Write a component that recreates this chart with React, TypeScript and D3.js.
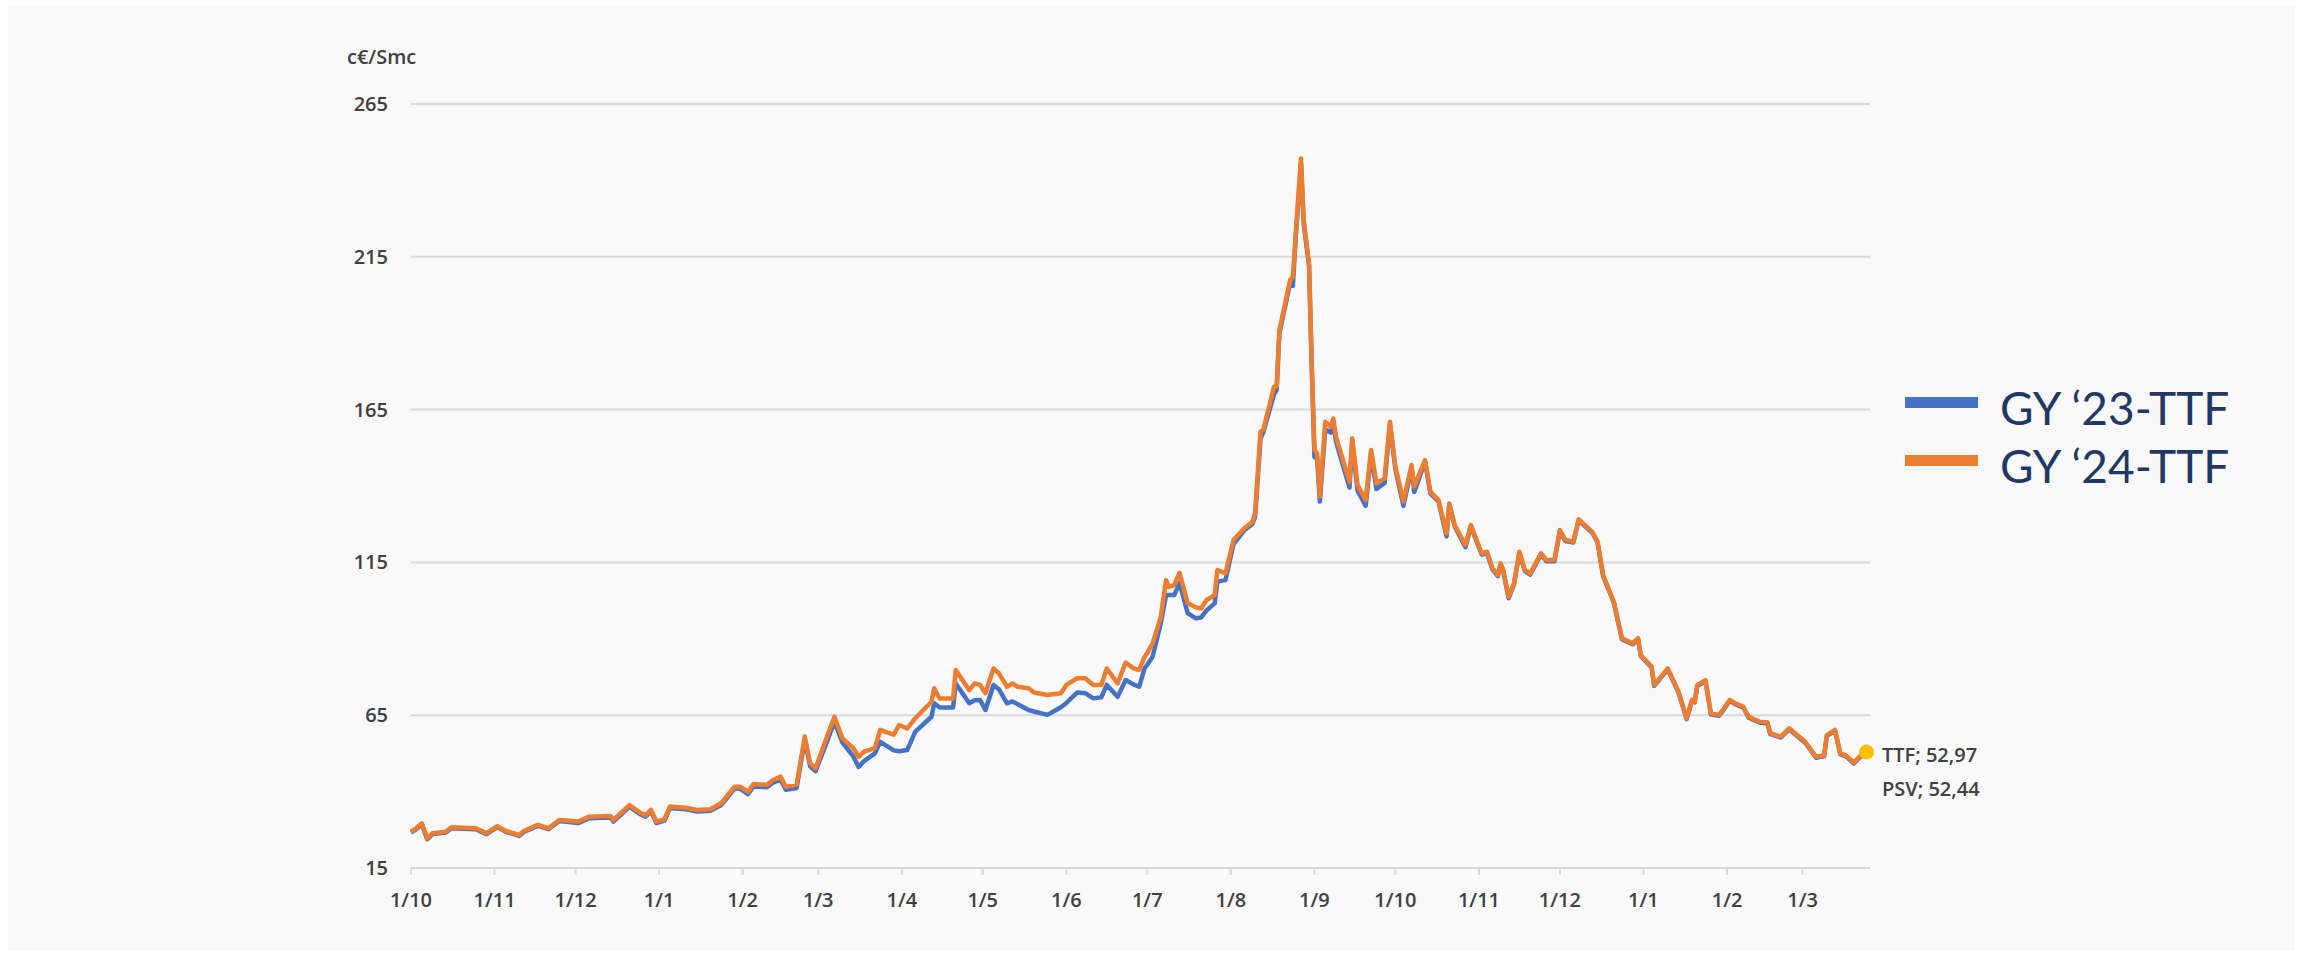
import React from 'react';
import * as d3 from 'd3';

// daily-ish readings of the two forward products, c€/Smc
const dates = [
  '2021-10-01', '2021-10-03', '2021-10-05', '2021-10-07', '2021-10-09', '2021-10-14', '2021-10-16', '2021-10-25', '2021-10-29',
  '2021-11-02', '2021-11-05', '2021-11-10', '2021-11-12', '2021-11-17', '2021-11-21', '2021-11-25',
  '2021-12-02', '2021-12-06', '2021-12-14', '2021-12-15', '2021-12-18', '2021-12-21', '2021-12-25', '2021-12-27', '2021-12-29', '2021-12-31',
  '2022-01-03', '2022-01-05', '2022-01-11', '2022-01-15', '2022-01-20', '2022-01-24', '2022-01-29', '2022-01-31',
  '2022-02-03', '2022-02-05', '2022-02-10', '2022-02-12', '2022-02-15', '2022-02-17', '2022-02-21', '2022-02-24', '2022-02-26', '2022-02-28',
  '2022-03-04', '2022-03-07', '2022-03-10', '2022-03-14', '2022-03-16', '2022-03-18', '2022-03-22', '2022-03-24', '2022-03-29', '2022-03-31',
  '2022-04-03', '2022-04-06', '2022-04-12', '2022-04-13', '2022-04-15', '2022-04-20', '2022-04-21', '2022-04-26', '2022-04-28', '2022-04-30',
  '2022-05-02', '2022-05-05', '2022-05-07', '2022-05-10', '2022-05-12', '2022-05-14', '2022-05-18', '2022-05-20', '2022-05-25', '2022-05-30',
  '2022-06-01', '2022-06-05', '2022-06-08', '2022-06-11', '2022-06-14', '2022-06-16', '2022-06-20', '2022-06-23', '2022-06-26', '2022-06-28', '2022-06-30',
  '2022-07-01', '2022-07-03', '2022-07-06', '2022-07-08', '2022-07-09', '2022-07-11', '2022-07-13', '2022-07-16', '2022-07-19', '2022-07-21', '2022-07-23', '2022-07-26', '2022-07-27', '2022-07-30',
  '2022-08-02', '2022-08-06', '2022-08-09', '2022-08-10', '2022-08-12', '2022-08-13', '2022-08-17', '2022-08-18', '2022-08-19', '2022-08-23', '2022-08-24', '2022-08-25', '2022-08-27', '2022-08-28', '2022-08-30', '2022-08-31',
  '2022-09-01', '2022-09-02', '2022-09-03', '2022-09-05', '2022-09-07', '2022-09-08', '2022-09-09', '2022-09-14', '2022-09-15', '2022-09-17', '2022-09-20', '2022-09-22', '2022-09-24', '2022-09-27', '2022-09-29',
  '2022-10-01', '2022-10-04', '2022-10-07', '2022-10-08', '2022-10-12', '2022-10-14', '2022-10-17', '2022-10-20', '2022-10-21', '2022-10-23', '2022-10-27', '2022-10-29',
  '2022-11-02', '2022-11-04', '2022-11-06', '2022-11-08', '2022-11-09', '2022-11-10', '2022-11-12', '2022-11-14', '2022-11-16', '2022-11-18', '2022-11-20', '2022-11-24', '2022-11-26', '2022-11-29',
  '2022-12-01', '2022-12-03', '2022-12-06', '2022-12-08', '2022-12-13', '2022-12-15', '2022-12-17', '2022-12-21', '2022-12-24', '2022-12-28', '2022-12-30', '2022-12-31',
  '2023-01-04', '2023-01-05', '2023-01-10', '2023-01-14', '2023-01-17', '2023-01-19', '2023-01-20', '2023-01-21', '2023-01-24', '2023-01-26', '2023-01-29', '2023-01-30',
  '2023-02-02', '2023-02-04', '2023-02-07', '2023-02-09', '2023-02-13', '2023-02-16', '2023-02-17', '2023-02-21', '2023-02-24',
  '2023-03-02', '2023-03-06', '2023-03-09', '2023-03-10', '2023-03-13', '2023-03-15', '2023-03-17', '2023-03-20', '2023-03-22', '2023-03-24',
];

const gy23 = [
  26.6, 27.7, 29.3, 24.4, 26.1, 26.6, 28.0, 27.7, 26.1,
  28.4, 26.9, 25.5, 26.9, 28.8, 27.7, 30.4,
  29.7, 31.3, 31.5, 30.2, 32.6, 35.1, 32.6, 31.8, 33.5, 29.7,
  30.5, 34.6, 34.2, 33.5, 33.7, 35.6, 41.0, 41.0,
  39.2, 41.7, 41.4, 42.8, 44.0, 40.6, 41.2, 57.0, 48.3, 46.7,
  55.8, 62.9, 56.0, 51.5, 48.1, 50.0, 52.5, 56.3, 53.5, 53.2,
  53.6, 59.6, 64.5, 68.9, 67.5, 67.5, 75.4, 68.9, 69.9, 70.0,
  66.7, 74.9, 73.5, 68.9, 69.5, 68.6, 66.7, 66.2, 65.1, 67.6,
  69.0, 72.4, 72.2, 70.5, 70.9, 74.9, 71.0, 76.5, 75.0, 74.3, 80.3,
  81.5, 84.1, 95.0, 104.3, 104.3, 104.3, 108.2, 98.4, 96.7, 97.0, 99.3, 101.6, 108.7, 109.2,
  121.0, 125.5, 127.6, 130.0, 155.5, 157.5, 170.0, 171.5, 190.0, 206.5, 205.5, 220.5, 245.5, 226.0, 212.0, 179.0,
  149.5, 149.0, 134.9, 158.5, 157.5, 160.5, 154.5, 139.5, 154.5, 138.5, 133.5, 150.5, 139.0, 141.0, 160.0,
  145.5, 133.5, 146.0, 138.0, 148.0, 137.5, 135.0, 123.5, 134.0, 126.8, 120.0, 126.8,
  117.6, 118.0, 112.7, 110.5, 114.3, 112.2, 103.3, 107.8, 118.0, 112.2, 111.0, 117.6, 115.4, 115.4,
  125.2, 122.0, 121.5, 128.8, 124.7, 121.5, 110.6, 101.8, 89.9, 88.2, 89.9, 84.4,
  80.6, 74.6, 80.0, 72.4, 63.7, 69.7, 69.2, 74.6, 76.2, 65.3, 64.8, 65.9,
  69.7, 68.6, 67.5, 64.2, 62.6, 62.3, 58.8, 57.7, 60.4,
  56.0, 51.1, 51.6, 58.2, 59.9, 52.2, 51.6, 49.2, 51.1, 52.1,
];

const gy24 = [
  26.9, 28.0, 29.6, 24.7, 26.4, 26.9, 28.3, 28.0, 26.4,
  28.7, 27.2, 25.8, 27.2, 29.1, 28.0, 30.7,
  30.2, 31.8, 32.0, 30.7, 33.1, 35.6, 33.1, 32.3, 34.0, 30.2,
  31.0, 35.1, 34.7, 34.0, 34.2, 36.2, 41.6, 41.6,
  40.0, 42.5, 42.2, 43.6, 44.9, 41.6, 42.2, 58.0, 49.3, 47.6,
  57.4, 64.5, 57.4, 54.2, 51.4, 53.1, 54.2, 60.2, 58.6, 61.8,
  60.7, 64.0, 69.4, 73.8, 70.5, 70.5, 79.8, 73.2, 75.4, 74.9,
  72.2, 80.3, 78.7, 74.3, 75.4, 74.3, 73.8, 72.4, 71.6, 72.2,
  74.9, 77.1, 77.1, 74.9, 74.9, 80.3, 75.4, 82.2, 80.3, 79.8, 84.1,
  85.3, 88.5, 97.2, 109.2, 107.0, 107.6, 111.6, 101.6, 100.3, 99.9, 102.7, 104.3, 112.5, 111.4,
  122.3, 126.2, 128.3, 131.1, 157.8, 158.3, 172.5, 172.5, 191.0, 207.4, 208.5, 221.6, 247.2, 227.0, 212.9, 180.1,
  151.8, 150.7, 136.5, 161.0, 159.4, 162.1, 156.1, 141.4, 155.6, 140.3, 135.4, 151.8, 140.9, 142.5, 161.0,
  146.3, 134.9, 146.9, 139.8, 148.5, 138.1, 135.4, 124.5, 134.3, 127.2, 120.7, 127.2,
  118.0, 118.5, 113.1, 110.9, 114.7, 112.6, 103.8, 108.2, 118.5, 112.6, 111.4, 118.0, 115.8, 115.8,
  125.6, 122.4, 121.8, 129.1, 125.0, 121.8, 110.9, 102.1, 90.2, 88.5, 90.2, 84.7,
  80.9, 74.9, 80.3, 72.7, 64.0, 70.0, 69.5, 74.9, 76.5, 65.6, 65.1, 66.2,
  70.0, 68.9, 67.8, 64.5, 62.9, 62.6, 59.1, 58.0, 60.7,
  56.3, 51.4, 51.9, 58.5, 60.2, 52.5, 51.9, 49.5, 51.4, 52.6,
];

const yTicks = [15, 65, 115, 165, 215, 265];
const seriesNames = ['GY ‘23-TTF', 'GY ‘24-TTF'];
const seriesColors = ['#4472c4', '#ed7d31'];
const lastTTF = 52.97;
const lastPSV = 52.44;
const unitLabel = 'c€/Smc';

const W = 2303;
const H = 959;
const m = { left: 411, right: 1870, top: 104, bottom: 868 };
const axisFont = "'Open Sans', 'DejaVu Sans', sans-serif";
const labelColor = '#404040';

export default function App() {
  const parse = d3.utcParse('%Y-%m-%d');
  const start = parse('2021-10-01') as Date;
  const end = parse('2023-03-26') as Date;
  const x = d3.scaleUtc().domain([start, end]).range([m.left, m.right]);
  const y = d3.scaleLinear().domain([15, 265]).range([m.bottom, m.top]);
  const months = d3.utcMonth.range(start, end);
  const fmt = d3.utcFormat('%-d/%-m');
  const parsed = dates.map(d => parse(d) as Date);

  const line = d3.line<number>()
    .x((_, i) => x(parsed[i]))
    .y(v => y(v));

  const lastDate = parsed[parsed.length - 1];
  const comma = (v: number) => v.toFixed(2).replace('.', ',');

  return (
    <div style={{ position: 'absolute', left: 0, top: 0 }}>
      <svg width={W} height={H} style={{ display: 'block', background: '#ffffff' }}>
        <rect x={8} y={5} width={2287} height={946} fill="#f9f9f9" />

        {/* grid + y labels */}
        {yTicks.map(t => (
          <g key={t}>
            <line x1={m.left} x2={m.right} y1={y(t)} y2={y(t)} stroke="#d9d9d9" strokeWidth={2} />
            <text x={388} y={y(t)} dy="0.35em" textAnchor="end" fontFamily={axisFont}
              fontWeight={600} fontSize={20} fill={labelColor}>{t}</text>
          </g>
        ))}
        <text x={347} y={57} dy="0.35em" fontFamily={axisFont} fontWeight={600} fontSize={20} fill={labelColor}>{unitLabel}</text>

        {/* x axis */}
        {months.map(d => (
          <g key={d.toISOString()}>
            <line x1={x(d)} x2={x(d)} y1={m.bottom} y2={m.bottom + 7} stroke="#d9d9d9" strokeWidth={2} />
            <text x={x(d)} y={900} dy="0.35em" textAnchor="middle" fontFamily={axisFont}
              fontWeight={600} fontSize={20} fill={labelColor}>{fmt(d)}</text>
          </g>
        ))}

        {/* series */}
        <path d={line(gy23) || ''} fill="none" stroke={seriesColors[0]} strokeWidth={4.5} strokeLinejoin="round" />
        <path d={line(gy24) || ''} fill="none" stroke={seriesColors[1]} strokeWidth={4.5} strokeLinejoin="round" />

        {/* last value marker */}
        <circle cx={x(lastDate) + 2} cy={y(lastTTF)} r={7.5} fill="#ffc000" />
        <text x={1882} y={755} dy="0.35em" fontFamily={axisFont} fontWeight={600} fontSize={20} fill={labelColor}>
          {`TTF; ${comma(lastTTF)}`}
        </text>
        <text x={1882} y={789} dy="0.35em" fontFamily={axisFont} fontWeight={600} fontSize={20} fill={labelColor}>
          {`PSV; ${comma(lastPSV)}`}
        </text>

        {/* legend */}
        {seriesNames.map((n, i) => (
          <g key={n} transform={`translate(0, ${i * 58})`}>
            <rect x={1905} y={397} width={73} height={11} fill={seriesColors[i]} />
            <text x={2000} y={425} fontFamily="Lato, 'Open Sans', sans-serif" fontWeight={400}
              fontSize={46} fill="#1f3864">{n}</text>
          </g>
        ))}
      </svg>
    </div>
  );
}
